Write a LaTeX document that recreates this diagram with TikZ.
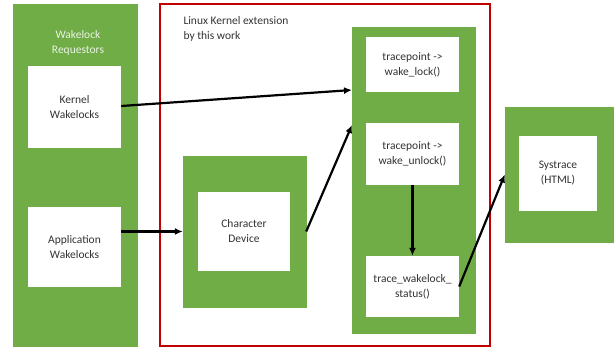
\documentclass[tikz,border=0pt]{standalone}
\usepackage{fontspec}
\setmainfont{Carlito}
\usepackage{tikz}
\usetikzlibrary{arrows.meta}
\definecolor{leaf}{HTML}{70AD47}
\definecolor{kred}{HTML}{C00000}
\tikzset{
	grp/.style={draw=leaf, fill=leaf, minimum width=#1},
	box/.style={fill=white, align=center, text=black!80, inner sep=1pt},
	arr/.style={-{Latex[length=8pt,width=7pt]}, line width=2.2pt},
}

\begin{document}
\begin{tikzpicture}[x=1pt, y=-1pt, font=\fontsize{11.5}{15}\selectfont]
			\useasboundingbox (0,0) rectangle (616,349);

			% wakelock requestors
			\node[grp=124, minimum height=342] (req) at (75,175) {};
			\node[align=center, text=leaf!15] (reqlbl) at (78,43) {Wakelock\\Requestors};
			\node[box, minimum width=93, minimum height=82] (kern) at (74.5,107) {Kernel\\Wakelocks};
			\node[box, minimum width=93, minimum height=80] (app) at (74.5,247) {Application\\Wakelocks};

			% kernel extension
			\node[draw=kred, line width=1.4pt, minimum width=330, minimum height=342] (ext) at (325,175) {};
			\node[anchor=north west, align=left, text=black!80] (extlbl) at (180,13) {Linux Kernel extension\\by this work};

			\node[grp=123, minimum height=151] (cdev) at (244.5,231.5) {};
			\node[box, minimum width=92, minimum height=79] (cdevin) at (244,231.5) {Character\\Device};

			\node[grp=123, minimum height=306] (trc) at (413.5,180) {};
			\node[box, minimum width=93, minimum height=55] (lock) at (412.5,64.5) {tracepoint ->\\wake\_lock()};
			\node[box, minimum width=93, minimum height=62] (unlock) at (412.5,154) {tracepoint ->\\wake\_unlock()};
			\node[box, minimum width=93, minimum height=61] (status) at (412.5,286.5) {trace\_wakelock\_\\status()};

			% output
			\node[grp=108, minimum height=135] (sys) at (559,174.5) {};
			\node[box, minimum width=78, minimum height=75] (sysin) at (558,173.5) {Systrace\\(HTML)};

			\coordinate (in1) at (352,90);
			\coordinate (in2) at (352,125);

			\draw[arr] (kern.east |- 0,106) -- (in1);
			\draw[arr] (app.east |- cdev) -- (cdev.west);
			\draw[arr] (cdev.east) -- (in2);
			\draw[arr] (unlock.south) -- (status.north);
			\draw[arr] (status.east) -- (sys.west);

		\end{tikzpicture}
\end{document}
